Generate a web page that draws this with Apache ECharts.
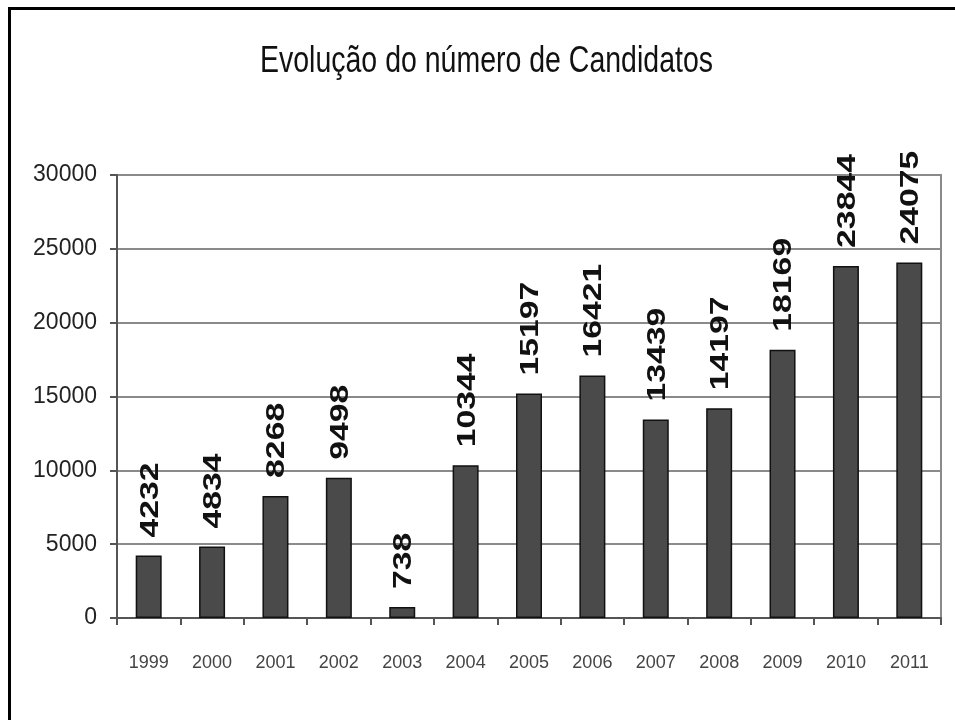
<!DOCTYPE html>
<html>
<head>
<meta charset="utf-8">
<script src="https://cdn.jsdelivr.net/npm/echarts@6/dist/echarts.min.js"></script>
<style>
html,body{margin:0;padding:0;background:#fff;}
#chart{width:955px;height:720px;}
</style>
</head>
<body>
<div id="chart"></div>
<script>
const titleText = 'Evolução do número de Candidatos';
const years = ['1999','2000','2001','2002','2003','2004','2005','2006','2007','2008','2009','2010','2011'];
const candidates = [4232, 4834, 8268, 9498, 738, 10344, 15197, 16421, 13439, 14197, 18169, 23844, 24075];
const yTicks = [0, 5000, 10000, 15000, 20000, 25000, 30000];

const chart = echarts.init(document.getElementById('chart'), null, {renderer:'canvas'});
const sans = '"Liberation Sans", Arial, sans-serif';

chart.setOption({
  backgroundColor: '#fff',
  animation: false,
  grid: {left: 117, right: 14, top: 175, bottom: 102, show: true, borderColor: '#8a8a8a', borderWidth: 2},
  xAxis: {
    type: 'category',
    data: years,
    axisLine: {lineStyle: {color: '#555', width: 2}},
    axisTick: {show: true, length: 7, lineStyle: {color: '#555', width: 2}},
    axisLabel: {interval: 0, margin: 36, fontFamily: sans, fontSize: 18, color: '#444'}
  },
  yAxis: {
    type: 'value',
    min: yTicks[0],
    max: yTicks[yTicks.length - 1],
    interval: yTicks[1] - yTicks[0],
    axisLine: {show: true, lineStyle: {color: '#555', width: 2}},
    axisTick: {show: true, length: 7, lineStyle: {color: '#555', width: 2}},
    splitLine: {lineStyle: {color: '#8a8a8a', width: 2}},
    axisLabel: {margin: 20, fontFamily: sans, fontSize: 23, color: '#222', formatter: v => String(v)}
  },
  series: [
    {
      type: 'bar',
      data: candidates,
      barWidth: 26,
      itemStyle: {color: '#4a4a4a', borderColor: '#111', borderWidth: 1.5},
      z: 3
    },
    {
      type: 'custom',
      data: candidates.map((v, i) => [i, v]),
      z: 5,
      renderItem: function (params, api) {
        const v = api.value(1);
        const p = api.coord([api.value(0), v]);
        return {
          type: 'text',
          x: p[0] + 2,
          y: p[1] - 18,
          rotation: Math.PI / 2,
          scaleX: 1.35,
          style: {
            text: String(v),
            font: 'bold 25px "Liberation Sans", Arial, sans-serif',
            align: 'left',
            verticalAlign: 'middle',
            fill: '#111'
          }
        };
      }
    }
  ],
  graphic: [
    {type: 'rect', shape: {x: 8, y: 7, width: 3, height: 713}, style: {fill: '#000'}},
    {type: 'rect', shape: {x: 8, y: 7, width: 947, height: 3}, style: {fill: '#000'}},
    {
      type: 'text',
      x: 486.5,
      y: 61.5,
      scaleX: 0.77,
      style: {
        text: titleText,
        font: '37px "Liberation Sans", Arial, sans-serif',
        align: 'center',
        verticalAlign: 'middle',
        fill: '#111'
      }
    }
  ]
});
</script>
</body>
</html>
